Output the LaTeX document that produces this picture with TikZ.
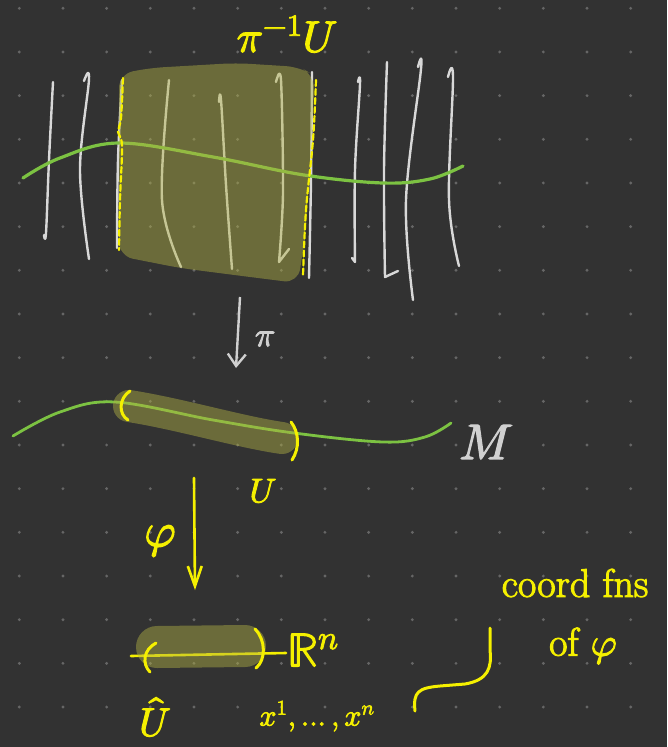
\documentclass[tikz,border=0pt]{standalone}
\usepackage{unicode-math}
\setmainfont{Latin Modern Roman}[FakeBold=2.5]
\setmathfont{Latin Modern Math}[FakeBold=2.5]
\usetikzlibrary{arrows.meta,positioning}

\definecolor{bgcol}{HTML}{323232}
\definecolor{gridcol}{HTML}{666666}
\definecolor{fibercol}{HTML}{D8D8D8}
\definecolor{leafgreen}{HTML}{7CC242}
\definecolor{shadecol}{HTML}{B1B144}
\definecolor{hilite}{HTML}{F5F000}
\definecolor{penwhite}{HTML}{D0D0D0}

\tikzset{
  fiber/.style={draw=fibercol, line width=2.4pt, line cap=round, line join=round},
  leaf/.style={draw=leafgreen, line width=3.2pt, line cap=round},
  shade/.style={fill=shadecol, fill opacity=0.45},
  hand/.style={draw=hilite, line width=3pt, line cap=round},
  yel/.style={text=hilite, inner sep=0pt},
  wht/.style={text=penwhite, inner sep=0pt},
}

\begin{document}
\begin{tikzpicture}[x=1pt,y=-1pt]
    % Background and dot grid
    \fill[bgcol] (0,0) rectangle (667,747);
    \useasboundingbox (0,0) rectangle (667,747);
    \foreach \i in {0,...,14} {
        \foreach \j in {0,...,16} {
            \fill[gridcol] ({19.3+43.67*\i},{8.3+43.67*\j}) circle (1.6);
        }
    }

    % Fibres of the total space
    \draw[fiber] plot[smooth, tension=0.6] coordinates {(53,82) (49,160) (46,233) (44,235)};
    \draw[fiber] plot[smooth, tension=0.6] coordinates {(84,81) (89,79) (80,170) (89,259)};
    \draw[fiber] plot[smooth, tension=0.6] coordinates {(122,80) (118,160) (117,248)};
    \draw[fiber] plot[smooth, tension=0.6] coordinates {(169,80) (162,200) (181,267)};
    \draw[fiber] plot[smooth, tension=0.6] coordinates {(219,102) (221,100) (226,185) (232,269)};
    \draw[fiber] plot[smooth, tension=0.5] coordinates {(276,82) (281,80) (283,193) (279,262)} -- (289,249);
    \draw[fiber] plot[smooth, tension=0.6] coordinates {(312,72) (311,180) (309,278)};
    \draw[fiber] plot[smooth, tension=0.6] coordinates {(358,82) (360,84) (355,170) (355,262)} -- (352,258);
    \draw[fiber] plot[smooth, tension=0.6] coordinates {(387,62) (384,170) (385,277)} -- (398,271);
    \draw[fiber] plot[smooth, tension=0.6] coordinates {(418,67) (421,69) (406,200) (413,300)};
    \draw[fiber] plot[smooth, tension=0.6] coordinates {(448,77) (453,77) (449,200) (459,266)};

    % Section over the fibres
    \draw[leaf] plot[smooth, tension=0.6] coordinates {(23,178) (60,158) (119,143) (213,157) (304,175) (383,183) (430,179) (463,166)};

    % Preimage of U
    \path[shade, rounded corners=14pt] (119,74) -- (150,68) -- (236,63) -- (300,67) -- (315,76)
        -- (306,230) -- (298,283) -- (250,277) -- (180,268) -- (119,256) -- cycle;
    \draw[hand, line width=2.2pt, dash pattern=on 6pt off 3pt] plot[smooth, tension=0.6]
        coordinates {(123,78) (121,118) (118,132) (122,146) (120,200) (119,250)};
    \draw[hand, line width=2.2pt, dash pattern=on 6pt off 3pt] plot[smooth, tension=0.6]
        coordinates {(316,80) (313,140) (306,210) (303,276)};
    \node[yel, font=\fontsize{44}{48}\selectfont] (preimg) at (287,34) {$\pi^{-1}U$};

    % Projection
    \coordinate (pitop) at (240,297);
    \coordinate (pibot) at (236,368);
    \draw[draw=penwhite, line width=2.4pt, -{Straight Barb[length=12pt,width=18pt]}] (pitop) -- (pibot);
    \node[wht, font=\fontsize{34}{38}\selectfont] (pilbl) at (265,339) {$\pi$};

    % Base manifold and the open set U
    \draw[leaf, line width=2.8pt] plot[smooth, tension=0.6] coordinates {(13,436) (60,412) (115,402) (213,420) (294,433) (383,442) (425,437) (451,423)};
    \draw[draw=shadecol, draw opacity=0.45, line width=32pt, line cap=round] (129,406) .. controls (180,414) and (240,432) .. (282,438);
    \draw[hand] (130,391) .. controls (119,398) and (118,414) .. (128,420);
    \draw[hand] (291,422) .. controls (299,432) and (300,448) .. (292,460);
    \node[wht, font=\fontsize{50}{54}\selectfont] (Mlbl) at (486,442) {$M$};
    \node[yel, font=\fontsize{34}{38}\selectfont] (Ulbl) at (263,491) {$U$};

    % Chart
    \coordinate (phitop) at (194,478);
    \coordinate (phibot) at (195,590);
    \draw[hand, line width=2.6pt, -{Straight Barb[length=20pt,width=14pt]}] (phitop) -- (phibot);
    \node[yel, font=\fontsize{48}{52}\selectfont] (philbl) at (160,541) {$\varphi$};

    % Image in R^n
    \coordinate (axisL) at (131,656);
    \coordinate (axisR) at (286,653);
    \draw[hand, line width=2.6pt] (axisL) -- (axisR);
    \draw[draw=shadecol, draw opacity=0.45, line width=42pt, line cap=round] (157,647) -- (245,646);
    \draw[hand] (156,643) .. controls (143,650) and (142,664) .. (150,672);
    \draw[hand] (255,629) .. controls (266,640) and (266,660) .. (256,668);
    \node[yel, font=\fontsize{48}{52}\selectfont] (Rn) at (313,650) {$\mathbb{R}^n$};
    \node[yel, font=\fontsize{40}{44}\selectfont] (Uhat) at (155,717) {$\hat U$};
    \node[yel, font=\fontsize{30}{34}\selectfont] (coords) at (317,716) {$x^1,\dots,x^n$};

    % Remark on the coordinate functions
    \coordinate (brA) at (415,711);
    \coordinate (brB) at (490,628);
    \draw[hand] (brA) .. controls (413,692) and (418,688) .. (440,686) -- (465,684)
        .. controls (488,680) and (492,668) .. (490,650) -- (brB);
    \node[yel, font=\fontsize{40}{44}\selectfont] (fns) at (575,583) {coord fns};
    \node[yel, font=\fontsize{40}{44}\selectfont] (ofphi) at (583,646) {of $\varphi$};
\end{tikzpicture}
\end{document}
